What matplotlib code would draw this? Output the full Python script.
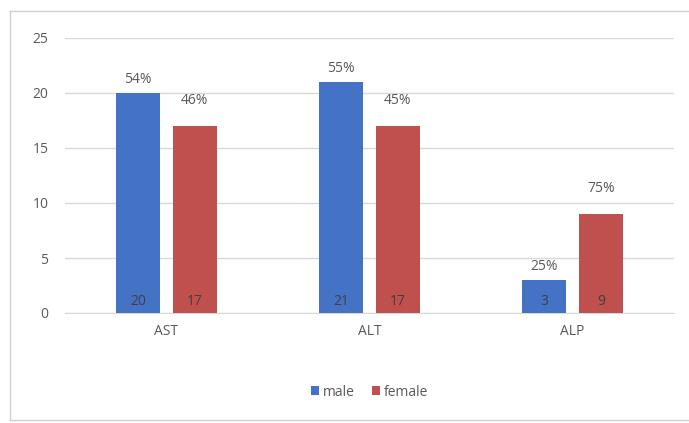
import numpy as np
import matplotlib.pyplot as plt
from matplotlib.lines import Line2D

# data
categories = ['AST', 'ALT', 'ALP']
male = [20, 21, 3]
female = [17, 17, 9]
male_pct = ['54%', '55%', '25%']
female_pct = ['46%', '45%', '75%']
yticks = [0, 5, 10, 15, 20, 25]

plt.rcParams['font.family'] = ['Open Sans', 'DejaVu Sans']

fig = plt.figure(figsize=(6.89, 4.23), dpi=100)
fig.patch.set_facecolor('white')

# chart frame: left, top, bottom only (right edge is off the picture)
fl, ft, fb = 10 / 689, 1 - 11 / 423, 3 / 423
for xs, ys in [([fl, fl], [fb, ft]), ([fl, 1.0], [ft, ft]), ([fl, 1.0], [fb, fb])]:
    fig.add_artist(Line2D(xs, ys, transform=fig.transFigure, color='#D0D0D0', linewidth=1.0))

ax = fig.add_axes([65 / 689, 1 - 313 / 423, (674 - 65) / 689, (313 - 38) / 423])

x = np.arange(len(categories))
w = 0.22
gap = 0.03
blue = '#4472C4'
red = '#C0504D'

ax.bar(x - w / 2 - gap, male, w, color=blue, label='male', zorder=3)
ax.bar(x + w / 2 + gap, female, w, color=red, label='female', zorder=3)

for i in range(len(categories)):
    xm = x[i] - w / 2 - gap
    xf = x[i] + w / 2 + gap
    ax.text(xm, 0.4, str(male[i]), ha='center', va='bottom', fontsize=10, color='#404040', zorder=4)
    ax.text(xf, 0.4, str(female[i]), ha='center', va='bottom', fontsize=10, color='#404040', zorder=4)
    ax.text(xm, male[i] + 1.2, male_pct[i], ha='center', va='center', fontsize=10, color='#595959')
    ax.text(xf, female[i] + 2.3, female_pct[i], ha='center', va='center', fontsize=10, color='#595959')

ax.set_ylim(0, 25)
ax.set_xlim(-0.5, 2.5)
ax.set_yticks(yticks)
ax.set_xticks(x)
ax.set_xticklabels(categories)
ax.grid(axis='y', color='#D9D9D9', linewidth=1.0, zorder=0)
ax.tick_params(axis='both', length=0, labelsize=10, colors='#595959', pad=12)
ax.tick_params(axis='x', pad=8)
for s in ['top', 'right', 'left']:
    ax.spines[s].set_visible(False)
ax.spines['bottom'].set_color('#D9D9D9')

ax.legend(loc='center', bbox_to_anchor=(0.5, 1 - (392 - 38) / 275), ncol=2, frameon=False,
          fontsize=10, handlelength=0.6, handleheight=0.6, columnspacing=1.2,
          handletextpad=0.3, labelcolor='#595959')

fig.savefig('out.png', dpi=100, facecolor='white')
